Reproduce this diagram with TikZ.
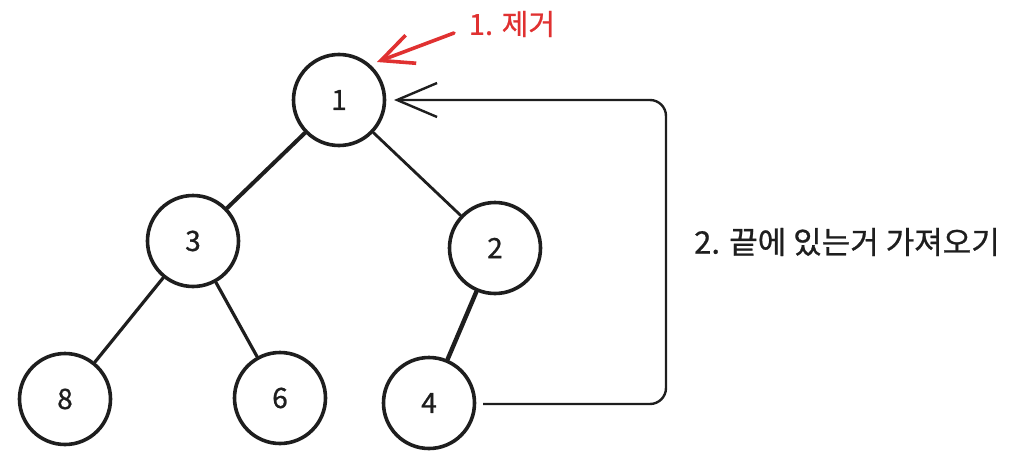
\documentclass[tikz,border=0pt]{standalone}
\usepackage{fontspec}
\newfontfamily\kr{Noto Sans CJK KR}
\newfontfamily\krb[FakeBold=0.8]{Noto Sans CJK KR}
\usetikzlibrary{arrows.meta,calc}
\definecolor{exred}{HTML}{E03131}
\definecolor{exink}{HTML}{1E1E1E}
\tikzset{
  heapnode/.style={circle, draw=exink, line width=3.6pt, minimum size=91pt, inner sep=0pt, font=\krb\fontsize{28}{30}\selectfont, text=exink},
  treeedge/.style={draw=exink, line width=3.2pt, line cap=round},
  moveline/.style={draw=exink, line width=2.4pt, rounded corners=16pt, -{Straight Barb[length=40pt,width=34pt,line width=2.4pt]}},
  removearrow/.style={draw=exred, line width=3.6pt, line cap=round, -{Straight Barb[length=32pt,width=30pt,line width=3.6pt]}},
  label/.style={inner sep=0pt}
}
\begin{document}
\begin{tikzpicture}[x=1pt,y=-1pt]
\useasboundingbox (0,0) rectangle (1013,466);
\node[heapnode] (n1) at (339,100) {1};
\node[heapnode] (n3) at (193,241) {3};
\node[heapnode] (n2) at (495,248) {2};
\node[heapnode] (n8) at (65,399) {8};
\node[heapnode] (n6) at (280,398) {6};
\node[heapnode] (n4) at (429,403) {4};
\draw[treeedge, line width=4pt] (n1) -- (n3);
\draw[treeedge, line width=2.8pt] (n1) -- (n2);
\draw[treeedge] (n3) -- (n8);
\draw[treeedge] (n3) -- (n6);
\draw[treeedge, line width=4.4pt] (n2) -- (n4);
\coordinate (tail) at (483,404);
\coordinate (turn) at (666,250);
\coordinate (head) at (394,100);
\draw[moveline] (tail) -| (turn) |- (head);
\node[label, text=exink, font=\krb\fontsize{31}{34}\selectfont] (lbl2) at (847,242) {2. 끝에 있는거 가져오기};
\coordinate (rtail) at (454,33);
\coordinate (rtip) at (377,62);
\draw[removearrow] (rtail) -- (rtip);
\node[label, text=exred, font=\krb\fontsize{29}{32}\selectfont] (lbl1) at (512,24) {1. 제거};
\end{tikzpicture}
\end{document}
